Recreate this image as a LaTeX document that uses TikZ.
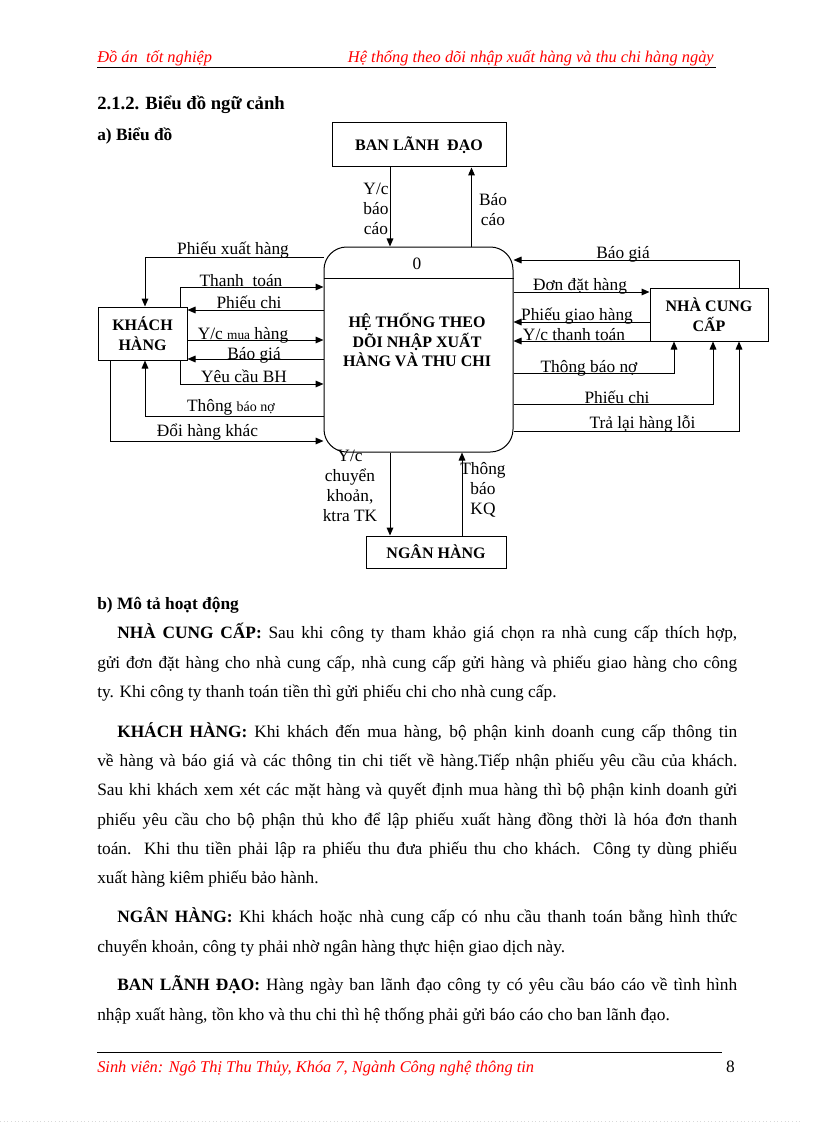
\documentclass[tikz,border=0pt]{standalone}
\usepackage{fontspec}
\setmainfont{Liberation Serif}
\usetikzlibrary{arrows.meta}
\definecolor{hdrred}{RGB}{255,0,0}
\newcommand\jfull[1]{\makebox[480pt][s]{#1}}
\newcommand\jind[1]{\makebox[465pt][s]{#1}}
\begin{document}
\begin{tikzpicture}[x=0.75pt,y=-0.75pt,
  box/.style={draw,line width=0.75pt,inner sep=0pt,align=center,font=\fontsize{12}{15}\selectfont\bfseries},
  lbl/.style={inner sep=0pt,font=\fontsize{13}{15}\selectfont},
  stack/.style={inner sep=0pt,align=center,font=\fontsize{13}{15}\selectfont},
  flow/.style={line width=0.75pt,-{Triangle[length=6pt,width=5pt]}},
  txt/.style={inner sep=0pt,anchor=base west,font=\fontsize{13}{15}\selectfont},
  hdr/.style={inner sep=0pt,text=hdrred,font=\fontsize{12.3}{14}\selectfont\itshape},
]
\useasboundingbox (0,0) rectangle (816,1123);

% header
\node[hdr,anchor=base west] (h1) at (97,63) {Đồ án\ \ tốt nghiệp};
\node[hdr,anchor=base east] (h2) at (714,63) {Hệ thống theo dõi nhập xuất hàng và thu chi hàng ngày};
\draw[line width=0.75pt] (97,67.5) -- (716,67.5);

\node[txt,font=\fontsize{14}{16}\selectfont\bfseries] (t1) at (97,110) {2.1.2. Biểu đồ ngữ cảnh};
\node[txt,font=\fontsize{13}{15}\selectfont\bfseries] (t2) at (97,141) {a) Biểu đồ};

% boxes
\node[box,minimum width=130.5pt,minimum height=33pt] (ban) at (419,145) {BAN LÃNH\ \ ĐẠO};
\node[draw,line width=0.75pt,rounded corners=17pt,minimum width=141.75pt,minimum height=153.75pt,inner sep=0pt] (main) at (418.5,349.5) {};
\draw[line width=0.75pt] (main.west |- 0,278) -- (main.east |- 0,278);
\node[lbl] (zero) at (417,264) {0};
\node[stack,font=\fontsize{12}{14.6}\selectfont\bfseries] (title) at (417,340) {HỆ THỐNG THEO\\DÕI NHẬP XUẤT\\HÀNG VÀ THU CHI};
\node[box,minimum width=66.75pt,minimum height=39.75pt] (kh) at (142.5,333.5) {KHÁCH\\HÀNG};
\node[box,minimum width=88.5pt,minimum height=39.75pt] (ncc) at (709,314.5) {NHÀ CUNG\\CẤP};
\node[box,minimum width=105pt,minimum height=24pt] (ngan) at (436,552) {NGÂN HÀNG};

% top flows
\draw[flow] (ban.south -| 390,0) -- (main.north -| 390,0);
\draw[flow] (main.north -| 471.5,0) -- (ban.south -| 471.5,0);
\node[stack] (l1) at (376,209) {Y/c\\báo\\cáo};
\node[stack] (l2) at (493,210) {Báo\\cáo};

% left flows
\draw[flow] (main.west |- 0,257) -| (kh.north -| 145,0);
\draw[flow] (kh.north -| 180,0) |- (main.west |- 0,287);
\draw[flow] (main.west |- 0,310) -- (kh.east |- 0,310);
\draw[flow] (kh.east |- 0,340) -- (main.west |- 0,340);
\draw[flow] (main.west |- 0,359) -- (kh.east |- 0,359);
\draw[flow] (kh.south -| 180,0) |- (main.west |- 0,384);
\draw[flow] (main.west |- 0,416) -| (kh.south -| 145,0);
\draw[flow] (kh.south -| 110,0) |- (main.west |- 0,441);
\node[lbl,anchor=base] (a1) at (233,254) {Phiếu xuất hàng};
\node[lbl,anchor=base] (a2) at (241,286) {Thanh\ \ toán};
\node[lbl,anchor=base] (a3) at (249,308) {Phiếu chi};
\node[lbl,anchor=base] (a4) at (243,339) {Y/c {\fontsize{10}{12}\selectfont mua} hàng};
\node[lbl,anchor=base] (a5) at (254,359) {Báo giá};
\node[lbl,anchor=base] (a6) at (244,382) {Yêu cầu BH};
\node[lbl,anchor=base] (a7) at (231,411) {Thông {\fontsize{10.5}{12}\selectfont báo nợ}};
\node[lbl,anchor=base] (a8) at (207.5,436) {Đổi hàng khác};

% right flows
\draw[flow] (ncc.north -| 739,0) |- (main.east |- 0,260);
\draw[flow] (main.east |- 0,292) -- (ncc.west |- 0,292);
\draw[flow] (ncc.west |- 0,322) -- (main.east |- 0,322);
\draw[flow] (ncc.west |- 0,341) -- (main.east |- 0,341);
\draw[flow] (main.east |- 0,373) -| (ncc.south -| 674,0);
\draw[flow] (main.east |- 0,404) -| (ncc.south -| 713,0);
\draw[flow] (main.east |- 0,431) -| (ncc.south -| 739,0);
\node[lbl,anchor=base] (b1) at (623,258) {Báo giá};
\node[lbl,anchor=base] (b2) at (580,290) {Đơn đặt hàng};
\node[lbl,anchor=base] (b3) at (577,320) {Phiếu giao hàng};
\node[lbl,anchor=base] (b4) at (574,340) {Y/c thanh\ toán};
\node[lbl,anchor=base] (b5) at (589,372) {Thông\ báo nợ};
\node[lbl,anchor=base] (b6) at (617,403) {Phiếu chi};
\node[lbl,anchor=base] (b7) at (642.5,428) {Trả\ lại hàng lỗi};

% bottom flows
\draw[flow] (main.south -| 390,0) -- (ngan.north -| 390,0);
\draw[flow] (ngan.north -| 462,0) -- (main.south -| 462,0);
\node[stack] (c1) at (350,486) {Y/c\\chuyển\\khoản,\\ktra TK};
\node[stack] (c2) at (483,490) {Thông\\báo\\KQ};

% description
\node[txt,font=\fontsize{13}{15}\selectfont\bfseries] (d0) at (97,609) {b) Mô tả hoạt động};
\node[txt] (p11) at (117,638) {\jind{\textbf{NHÀ CUNG CẤP:} Sau khi công ty tham khảo giá chọn ra nhà cung cấp thích hợp,}};
\node[txt] (p12) at (97,668) {\jfull{gửi đơn đặt hàng cho nhà cung cấp, nhà cung cấp gửi hàng và phiếu giao hàng cho công}};
\node[txt] (p13) at (97,697) {ty. Khi công ty thanh toán tiền thì gửi phiếu chi cho nhà cung cấp.};

\node[txt] (p21) at (117,737) {\jind{\textbf{KHÁCH HÀNG:} Khi khách đến mua hàng, bộ phận kinh doanh cung cấp thông tin}};
\node[txt] (p22) at (97,766) {\jfull{về hàng và báo giá và các thông tin chi tiết về hàng.Tiếp nhận phiếu yêu cầu của khách.}};
\node[txt] (p23) at (97,795) {\jfull{Sau khi khách xem xét các mặt hàng và quyết định mua hàng thì bộ phận kinh doanh gửi}};
\node[txt] (p24) at (97,825) {\jfull{phiếu yêu cầu cho bộ phận thủ kho để lập phiếu xuất hàng đồng thời là hóa đơn thanh}};
\node[txt] (p25) at (97,854) {\jfull{toán. Khi thu tiền phải lập ra phiếu thu đưa phiếu thu cho khách. Công ty dùng phiếu}};
\node[txt] (p26) at (97,883) {xuất hàng kiêm phiếu bảo hành.};

\node[txt] (p31) at (117,922) {\jind{\textbf{NGÂN HÀNG:} Khi khách hoặc nhà cung cấp có nhu cầu thanh toán bằng hình thức}};
\node[txt] (p32) at (97,952) {chuyển khoản, công ty phải nhờ ngân hàng thực hiện giao dịch này.};

\node[txt] (p41) at (117,990) {\jind{\textbf{BAN LÃNH ĐẠO:} Hàng ngày ban lãnh đạo công ty có yêu cầu báo cáo về tình hình}};
\node[txt] (p42) at (97,1020) {nhập xuất hàng, tồn kho và thu chi thì hệ thống phải gửi báo cáo cho ban lãnh đạo.};

% footer
\draw[line width=0.75pt] (97,1052) -- (722,1052);
\node[hdr,anchor=base west] (f1) at (97,1072) {Sinh viên: Ngô Thị Thu Thủy, Khóa 7, Ngành Công nghệ thông tin};
\node[lbl,anchor=base east] (pg) at (735,1072) {8};
\draw[black!15,dotted,line width=0.75pt] (0,1121) -- (800,1121);
\end{tikzpicture}
\end{document}
